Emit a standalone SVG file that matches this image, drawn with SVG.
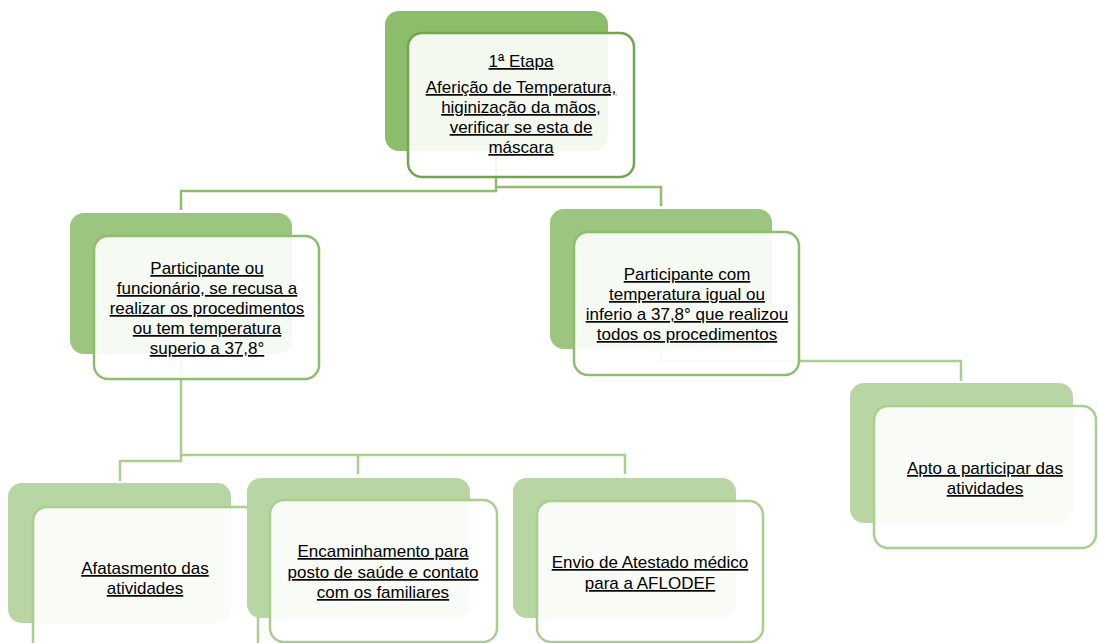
<svg xmlns="http://www.w3.org/2000/svg" width="1098" height="643" viewBox="0 0 1098 643">
<style>
.bg{fill:#ffffff}
.b1{fill:#8CBD6B}
.b2{fill:#9CC580}
.b3{fill:#B7D6A3}
.f{fill:#ffffff;fill-opacity:0.9;stroke-width:2.5}
.f1{stroke:#70A64E}
.f2{stroke:#8CBE6C}
.f3{stroke:#A8CF8E}
.c2{fill:none;stroke:#8CBE6C;stroke-width:2.5}
.c3{fill:none;stroke:#A8CF8E;stroke-width:2.5}
text{font-family:"Liberation Sans",Arial,sans-serif;font-size:17px;fill:#000;text-anchor:middle;text-decoration:underline}
</style>
<rect class="bg" x="0" y="0" width="1098" height="643"/>
<g id="connectors">
<path class="c2" d="M496,150 V191 H181 V210"/>
<path class="c2" d="M496,187 H661 V206"/>
<path class="c3" d="M661,340 V361 H961 V381"/>
<path class="c3" d="M181,354 V455 H625 V474"/>
<path class="c3" d="M358,455 V474"/>
<path class="c3" d="M181,455 V461 H120 V481"/>
</g>
<g id="n-etapa">
<rect class="b1" x="385" y="11" width="223" height="140" rx="14"/>
<rect class="f f1" x="408" y="33" width="226" height="144" rx="14"/>
<text x="521" y="67">1ª Etapa</text>
<text x="521" y="93">Aferição de Temperatura,</text>
<text x="521" y="113">higinização da mãos,</text>
<text x="521" y="133">verificar se esta de</text>
<text x="521" y="153">máscara</text>
</g>
<g id="n-recusa">
<rect class="b2" x="70" y="213" width="222" height="141" rx="14"/>
<rect class="f f2" x="94" y="236" width="225" height="143" rx="14"/>
<text x="207" y="274">Participante ou</text>
<text x="207" y="294">funcionário, se recusa a</text>
<text x="207" y="314">realizar os procedimentos</text>
<text x="207" y="334">ou tem temperatura</text>
<text x="207" y="354">superio a 37,8°</text>
</g>
<g id="n-igual">
<rect class="b2" x="550" y="209" width="222" height="140" rx="14"/>
<rect class="f f2" x="574" y="232" width="225" height="143" rx="14"/>
<text x="687" y="280">Participante com</text>
<text x="687" y="300">temperatura igual ou</text>
<text x="687" y="320">inferio a 37,8° que realizou</text>
<text x="687" y="340">todos os procedimentos</text>
</g>
<g id="n-apto">
<rect class="b3" x="850" y="383" width="223" height="140" rx="14"/>
<rect class="f f3" x="874" y="406" width="222" height="142" rx="14"/>
<text x="985" y="474">Apto a participar das</text>
<text x="985" y="494">atividades</text>
</g>
<g id="n-afastamento">
<rect class="b3" x="8" y="483" width="223" height="140" rx="14"/>
<rect class="f f3" x="33" y="507" width="225" height="150" rx="14"/>
<text x="145" y="574">Afatasmento das</text>
<text x="145" y="594">atividades</text>
</g>
<g id="n-encaminhamento">
<rect class="b3" x="247" y="478" width="223" height="140" rx="14"/>
<rect class="f f3" x="270" y="500" width="227" height="142" rx="14"/>
<text x="383" y="557">Encaminhamento para</text>
<text x="383" y="578">posto de saúde e contato</text>
<text x="383" y="598">com os familiares</text>
</g>
<g id="n-atestado">
<rect class="b3" x="513" y="478" width="223" height="140" rx="14"/>
<rect class="f f3" x="537" y="501" width="226" height="141" rx="14"/>
<text x="650" y="568">Envio de Atestado médico</text>
<text x="650" y="589">para a AFLODEF</text>
</g>
</svg>
